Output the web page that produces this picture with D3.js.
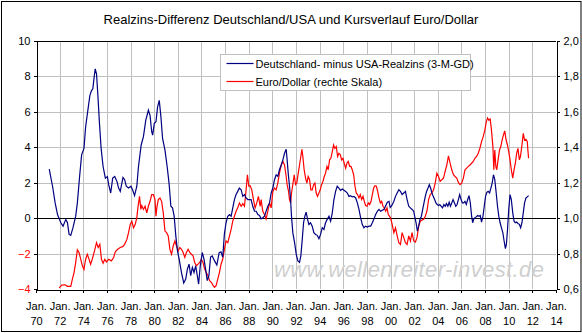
<!DOCTYPE html>
<html>
<head>
<meta charset="utf-8">
<script src="https://cdn.jsdelivr.net/npm/d3@7"></script>
<style>
  body { margin: 0; background: #fff; }
  svg text { font-family: "Liberation Sans", Arial, sans-serif; }
</style>
</head>
<body>
<svg id="chart" width="582" height="333"></svg>
<script>
/* ===============================
   Data
================================ */

const chartTitle = "Realzins-Differenz Deutschland/USA und Kursverlauf Euro/Dollar";
const seriesNames = ["Deutschland- minus USA-Realzins (3-M-GD)", "Euro/Dollar (rechte Skala)"];

const leftTicks = [-4, -2, 0, 2, 4, 6, 8, 10];
const rightTicks = [0.6, 0.8, 1.0, 1.2, 1.4, 1.6, 1.8, 2.0];
const yearTicks = d3.range(1970, 2015, 2);

// real interest rate difference (left scale), decimal years
const realYears = [
  1971.12, 1971.40, 1971.62, 1971.82, 1972.10, 1972.29, 1972.52, 1972.66, 1972.80, 1972.94,
  1973.13, 1973.36, 1973.50, 1973.69, 1973.86, 1974.06, 1974.20, 1974.39, 1974.56, 1974.70,
  1974.81, 1974.92, 1975.01, 1975.12, 1975.23, 1975.37, 1975.51, 1975.68, 1975.87, 1976.04,
  1976.15, 1976.32, 1976.49, 1976.66, 1976.85, 1976.99, 1977.13, 1977.36, 1977.50, 1977.64,
  1977.83, 1978.03, 1978.17, 1978.34, 1978.53, 1978.67, 1978.90, 1979.09, 1979.29, 1979.51,
  1979.65, 1979.79, 1979.87, 1980.01, 1980.15, 1980.29, 1980.43, 1980.57, 1980.71, 1980.91,
  1981.10, 1981.27, 1981.41, 1981.55, 1981.69, 1981.83, 1981.97, 1982.11, 1982.31, 1982.50,
  1982.67, 1982.81, 1982.95, 1983.09, 1983.23, 1983.37, 1983.51, 1983.65, 1983.76, 1983.90,
  1984.07, 1984.21, 1984.35, 1984.49, 1984.63, 1984.77, 1984.91, 1985.10, 1985.30, 1985.50,
  1985.65, 1985.80, 1985.94, 1986.08, 1986.23, 1986.37, 1986.51, 1986.65, 1986.79, 1986.93,
  1987.07, 1987.21, 1987.36, 1987.50, 1987.64, 1987.78, 1987.92, 1988.06, 1988.20, 1988.34,
  1988.49, 1988.63, 1988.77, 1988.91, 1989.05, 1989.19, 1989.33, 1989.47, 1989.62, 1989.76,
  1989.90, 1990.04, 1990.18, 1990.32, 1990.46, 1990.60, 1990.75, 1990.89, 1991.03, 1991.17,
  1991.25, 1991.34, 1991.45, 1991.54, 1991.62, 1991.73, 1991.88, 1992.02, 1992.16, 1992.30,
  1992.41, 1992.53, 1992.64, 1992.75, 1992.86, 1992.98, 1993.09, 1993.23, 1993.37, 1993.51,
  1993.66, 1993.80, 1993.94, 1994.08, 1994.22, 1994.36, 1994.50, 1994.64, 1994.79, 1994.93,
  1995.07, 1995.21, 1995.35, 1995.49, 1995.63, 1995.77, 1995.92, 1996.06, 1996.20, 1996.34,
  1996.48, 1996.62, 1996.76, 1996.90, 1997.05, 1997.19, 1997.33, 1997.47, 1997.61, 1997.75,
  1997.89, 1998.03, 1998.18, 1998.32, 1998.46, 1998.60, 1998.74, 1998.88, 1999.02, 1999.16,
  1999.31, 1999.45, 1999.59, 1999.73, 1999.87, 1999.97, 2000.10, 2000.28, 2000.42, 2000.56,
  2000.70, 2000.84, 2000.98, 2001.12, 2001.26, 2001.40, 2001.54, 2001.68, 2001.82, 2001.96,
  2002.04, 2002.16, 2002.27, 2002.38, 2002.49, 2002.61, 2002.72, 2002.83, 2002.94, 2003.05,
  2003.17, 2003.28, 2003.39, 2003.50, 2003.61, 2003.73, 2003.84, 2003.95, 2004.06, 2004.17,
  2004.29, 2004.40, 2004.51, 2004.62, 2004.73, 2004.85, 2004.96, 2005.07, 2005.18, 2005.29,
  2005.41, 2005.52, 2005.63, 2005.74, 2005.85, 2005.97, 2006.08, 2006.19, 2006.30, 2006.41,
  2006.53, 2006.64, 2006.75, 2006.86, 2006.95, 2007.03, 2007.14, 2007.25, 2007.37, 2007.48,
  2007.59, 2007.70, 2007.82, 2007.93, 2008.04, 2008.15, 2008.26, 2008.38, 2008.49, 2008.60,
  2008.71, 2008.82, 2008.94, 2009.05, 2009.16, 2009.27, 2009.38, 2009.50, 2009.61, 2009.72,
  2009.80, 2009.89, 2010.00, 2010.11, 2010.22, 2010.34, 2010.45, 2010.56, 2010.67, 2010.78,
  2010.90, 2011.01, 2011.12, 2011.23, 2011.34, 2011.46, 2011.57, 2011.68
];
const realValues = [
  2.77, 1.8, 0.86, 0.2, -0.26, -0.45, -0.07, -0.26, -0.92, -0.97,
  -0.54, 0.11, 0.86, 2.35, 3.57, 3.94, 5.16, 6.1, 6.93, 7.2,
  7.3, 7.96, 8.43, 8.15, 7.0, 5.35, 3.94, 2.9, 2.26, 2.35,
  1.89, 1.42, 2.26, 2.35, 2.07, 1.7, 1.51, 2.3, 2.17, 1.8,
  1.7, 1.8, 1.6, 1.27, 1.8, 2.9, 4.13, 4.6, 5.53, 6.09,
  5.8, 4.88, 4.69, 5.35, 5.44, 6.28, 6.65, 5.72, 4.5, 3.85,
  2.9, 1.89, 0.67, 0.58, 0.11, -1.0, -1.85, -2.3, -3.07, -3.66,
  -3.44, -2.88, -2.6, -3.25, -2.78, -3.07, -2.69, -3.25, -3.72, -2.69,
  -1.94, -2.3, -2.88, -3.53, -3.25, -2.2, -2.13, -2.4, -2.65, -1.95,
  -1.9, -2.2, -0.9, -0.26, 0.11, 0.2, 0.11, 0.58, 1.05, 1.33,
  1.51, 1.7, 1.6, 1.23, 1.33, 1.14, 1.05, 1.05, 1.05, 0.67,
  0.39, 0.39, 0.2, 0.15, -0.04, 0.02, 0.11, 0.39, 0.67, 0.86,
  1.42, 1.7, 2.17, 2.45, 2.36, 2.73, 3.0, 3.29, 3.66, 3.89,
  3.29, 2.54, 1.8, 1.05, 0.11, -0.82, -1.38, -2.04, -2.41, -2.5,
  -2.13, -1.2, -0.26, 0.11, 0.34, -0.07, -0.36, -0.26, -0.45, -0.82,
  -0.92, -0.97, -1.16, -0.92, -0.54, -0.64, -0.26, -0.07, 0.11, -0.17,
  0.3, 1.05, 1.51, 1.8, 1.7, 1.57, 1.64, 1.57, 1.51, 1.42,
  1.23, 1.27, 1.2, 1.23, 1.14, 0.86, 0.49, 0.02, -0.36, -0.54,
  -0.45, -0.5, -0.45, -0.45, -0.26, -0.04, 0.2, 0.39, 0.49, 0.39,
  0.45, 0.5, 0.7, 0.9, 0.95, 0.6, 0.7, 0.95, 1.23, 1.42,
  1.6, 1.51, 1.33, 1.42, 1.51, 1.05, 0.67, 0.58, 0.49, 0.39,
  0.11, -0.26, -0.73, -0.45, -0.07, 0.11, 0.49, 0.86, 1.23, 1.51,
  1.7, 1.89, 1.7, 1.42, 1.23, 1.05, 0.86, 0.77, 0.71, 0.77,
  0.67, 0.58, 0.77, 0.67, 0.82, 0.67, 0.9, 0.67, 0.86, 1.05,
  0.86, 0.67, 0.77, 1.05, 1.33, 1.05, 0.86, 0.86, 0.95, 0.77,
  1.05, 1.27, 0.86, 0.11, -0.26, -0.07, 0.02, 0.07, 0.15, 0.11,
  0.15, -0.22, 0.11, 0.67, 1.23, 1.46, 1.51, 1.42, 1.7, 1.98,
  2.45, 2.17, 1.42, 0.67, 0.11, -0.26, -0.54, -0.82, -1.29, -1.72,
  -1.48, -0.73, 0.49, 1.33, 1.05, 0.3, -0.17, -0.26, -0.22, -0.3,
  -0.35, -0.54, -0.26, 0.3, 0.86, 1.14, 1.2, 1.27
];

// Euro/Dollar (right scale), decimal years
const euroYears = [
  1971.96, 1972.18, 1972.46, 1972.66, 1972.94, 1973.08, 1973.22, 1973.36, 1973.50, 1973.64,
  1973.78, 1973.92, 1974.06, 1974.20, 1974.34, 1974.48, 1974.62, 1974.76, 1974.95, 1975.12,
  1975.26, 1975.40, 1975.54, 1975.68, 1975.82, 1975.96, 1976.15, 1976.38, 1976.57, 1976.71,
  1976.91, 1977.13, 1977.33, 1977.50, 1977.69, 1977.83, 1977.97, 1978.11, 1978.25, 1978.39,
  1978.53, 1978.62, 1978.76, 1978.87, 1978.95, 1979.09, 1979.23, 1979.37, 1979.51, 1979.65,
  1979.79, 1979.93, 1980.07, 1980.15, 1980.24, 1980.35, 1980.49, 1980.63, 1980.77, 1980.91,
  1981.05, 1981.19, 1981.33, 1981.47, 1981.61, 1981.75, 1981.89, 1982.03, 1982.17, 1982.31,
  1982.45, 1982.59, 1982.73, 1982.87, 1983.01, 1983.15, 1983.29, 1983.43, 1983.57, 1983.71,
  1983.85, 1983.99, 1984.13, 1984.27, 1984.41, 1984.55, 1984.69, 1984.83, 1984.97, 1985.10,
  1985.24, 1985.38, 1985.52, 1985.66, 1985.80, 1985.94, 1986.08, 1986.23, 1986.37, 1986.51,
  1986.65, 1986.79, 1986.93, 1987.07, 1987.21, 1987.36, 1987.50, 1987.64, 1987.78, 1987.89,
  1988.01, 1988.12, 1988.26, 1988.40, 1988.54, 1988.68, 1988.82, 1988.97, 1989.05, 1989.19,
  1989.33, 1989.47, 1989.62, 1989.76, 1989.90, 1990.04, 1990.18, 1990.32, 1990.46, 1990.60,
  1990.75, 1990.89, 1991.03, 1991.17, 1991.25, 1991.37, 1991.45, 1991.54, 1991.62, 1991.73,
  1991.85, 1991.96, 1992.07, 1992.19, 1992.30, 1992.41, 1992.50, 1992.58, 1992.69, 1992.81,
  1992.92, 1993.03, 1993.15, 1993.26, 1993.37, 1993.49, 1993.60, 1993.71, 1993.82, 1993.94,
  1994.05, 1994.16, 1994.28, 1994.39, 1994.50, 1994.62, 1994.73, 1994.84, 1994.95, 1995.07,
  1995.18, 1995.29, 1995.41, 1995.52, 1995.63, 1995.75, 1995.86, 1995.97, 1996.08, 1996.20,
  1996.31, 1996.42, 1996.54, 1996.65, 1996.76, 1996.88, 1996.99, 1997.10, 1997.21, 1997.33,
  1997.44, 1997.55, 1997.67, 1997.78, 1997.89, 1998.01, 1998.12, 1998.23, 1998.35, 1998.46,
  1998.57, 1998.68, 1998.80, 1998.91, 1999.02, 1999.14, 1999.25, 1999.36, 1999.47, 1999.59,
  1999.70, 1999.81, 2000.00, 2000.14, 2000.28, 2000.42, 2000.56, 2000.70, 2000.84, 2000.98,
  2001.12, 2001.26, 2001.40, 2001.54, 2001.68, 2001.82, 2001.96, 2002.10, 2002.24, 2002.38,
  2002.52, 2002.66, 2002.80, 2002.94, 2003.08, 2003.22, 2003.36, 2003.50, 2003.64, 2003.78,
  2003.92, 2004.06, 2004.20, 2004.34, 2004.48, 2004.62, 2004.76, 2004.90, 2005.04, 2005.18,
  2005.32, 2005.46, 2005.60, 2005.74, 2005.88, 2006.02, 2006.16, 2006.30, 2006.44, 2006.58,
  2006.72, 2006.86, 2007.00, 2007.14, 2007.28, 2007.42, 2007.56, 2007.70, 2007.84, 2007.98,
  2008.10, 2008.21, 2008.32, 2008.43, 2008.54, 2008.66, 2008.74, 2008.82, 2008.91, 2008.99,
  2009.10, 2009.22, 2009.33, 2009.44, 2009.55, 2009.66, 2009.78, 2009.89, 2010.00, 2010.11,
  2010.22, 2010.34, 2010.45, 2010.56, 2010.67, 2010.78, 2010.90, 2010.99, 2011.12, 2011.23,
  2011.34, 2011.46, 2011.57, 2011.62, 2011.68
];
const euroValues = [
  0.606, 0.622, 0.624, 0.615, 0.615, 0.656, 0.693, 0.75, 0.821, 0.806,
  0.77, 0.731, 0.71, 0.768, 0.796, 0.77, 0.74, 0.768, 0.815, 0.862,
  0.834, 0.852, 0.768, 0.746, 0.768, 0.753, 0.768, 0.759, 0.778, 0.81,
  0.824, 0.834, 0.839, 0.852, 0.88, 0.918, 0.964, 0.983, 0.946, 0.964,
  1.002, 1.058, 1.123, 1.049, 1.071, 1.049, 1.067, 1.03, 1.067, 1.095,
  1.133, 1.133, 1.105, 1.011, 1.067, 1.105, 1.114, 1.095, 1.03, 0.927,
  0.918, 0.9, 0.824, 0.796, 0.843, 0.871, 0.843, 0.815, 0.834, 0.824,
  0.806, 0.778, 0.806, 0.824, 0.806, 0.796, 0.787, 0.75, 0.731, 0.74,
  0.75, 0.768, 0.75, 0.712, 0.693, 0.675, 0.647, 0.638, 0.622, 0.61,
  0.619, 0.656, 0.693, 0.74, 0.768, 0.824, 0.871, 0.862, 0.9, 0.936,
  0.983, 1.011, 1.039, 1.058, 1.086, 1.067, 1.082, 1.067, 1.16, 1.245,
  1.18, 1.183, 1.16, 1.105, 1.058, 1.086, 1.123, 1.067, 1.105, 1.039,
  1.02, 0.996, 1.039, 1.086, 1.058, 1.151, 1.17, 1.16, 1.198, 1.254,
  1.30, 1.32, 1.30, 1.235, 1.189, 1.151, 1.105, 1.086, 1.142, 1.189,
  1.245, 1.189, 1.198, 1.254, 1.30, 1.348, 1.389, 1.348, 1.273, 1.226,
  1.198, 1.235, 1.217, 1.16, 1.16, 1.189, 1.198, 1.142, 1.123, 1.142,
  1.16, 1.189, 1.207, 1.235, 1.254, 1.292, 1.273, 1.329, 1.338, 1.376,
  1.413, 1.394, 1.404, 1.348, 1.366, 1.357, 1.329, 1.338, 1.31, 1.282,
  1.31, 1.32, 1.292, 1.292, 1.273, 1.245, 1.18, 1.142, 1.133, 1.114,
  1.133, 1.105, 1.123, 1.095, 1.071, 1.067, 1.086, 1.077, 1.095, 1.133,
  1.17, 1.183, 1.18, 1.151, 1.114, 1.086, 1.095, 1.067, 1.058, 1.039,
  1.058, 1.02, 1.002, 0.964, 0.918, 0.946, 0.90, 0.862, 0.852, 0.918,
  0.89, 0.862, 0.852, 0.90, 0.871, 0.918, 0.871, 0.865, 0.89, 0.955,
  0.983, 0.989, 0.993, 1.011, 1.039, 1.105, 1.133, 1.142, 1.16, 1.198,
  1.254, 1.235, 1.207, 1.217, 1.226, 1.264, 1.30, 1.351, 1.31, 1.273,
  1.245, 1.235, 1.226, 1.202, 1.189, 1.198, 1.226, 1.273, 1.282, 1.292,
  1.30, 1.31, 1.32, 1.338, 1.348, 1.366, 1.394, 1.432, 1.46, 1.497,
  1.544, 1.566, 1.553, 1.56, 1.497, 1.404, 1.273, 1.385, 1.292, 1.273,
  1.329, 1.385, 1.404, 1.441, 1.469, 1.493, 1.441, 1.413, 1.376, 1.329,
  1.273, 1.226, 1.273, 1.31, 1.366, 1.394, 1.329, 1.348, 1.413, 1.479,
  1.441, 1.445, 1.432, 1.385, 1.338
];

/* ===============================
   Setup
================================ */

const width = 582;
const height = 333;
const plot = { left: 36, right: 556, top: 41, bottom: 289 };

const svg = d3.select("#chart");

svg.append("rect")
  .attr("x", 0).attr("y", 0)
  .attr("width", width).attr("height", height)
  .attr("fill", "#fff");

svg.append("rect")
  .attr("x", 1.5).attr("y", 1.5)
  .attr("width", width - 2.5).attr("height", height - 3)
  .attr("fill", "none")
  .attr("stroke", "#000")
  .attr("stroke-width", 1);

const x = d3.scaleLinear().domain([1970, 2014]).range([plot.left, plot.right]);
const y = d3.scaleLinear().domain([-4, 10]).range([plot.bottom, plot.top]);
const y2 = d3.scaleLinear().domain([0.6, 2.0]).range([plot.bottom, plot.top]);

/* -------- grid -------- */

const grid = svg.append("g").attr("shape-rendering", "crispEdges");

grid.selectAll(".vgrid")
  .data(yearTicks.slice(1, -1))
  .enter().append("line")
  .attr("x1", d => Math.round(x(d)) + 0.5)
  .attr("x2", d => Math.round(x(d)) + 0.5)
  .attr("y1", plot.top).attr("y2", plot.bottom)
  .attr("stroke", "#c0c0c0");

grid.selectAll(".hgrid")
  .data(leftTicks.filter(d => d !== 0 && d !== -4))
  .enter().append("line")
  .attr("x1", plot.left).attr("x2", plot.right)
  .attr("y1", d => Math.round(y(d)) + 0.5)
  .attr("y2", d => Math.round(y(d)) + 0.5)
  .attr("stroke", d => d === 10 ? "#000" : "#c0c0c0");

/* -------- watermark -------- */

svg.append("text")
  .attr("x", 274).attr("y", 277)
  .attr("font-size", 22)
  .attr("font-style", "italic")
  .attr("fill", "#cfcfcf")
  .attr("textLength", 270)
  .text("www.wellenreiter-invest.de");

/* -------- zero line -------- */

svg.append("line")
  .attr("x1", plot.left).attr("x2", plot.right)
  .attr("y1", Math.round(y(0)) + 0.5).attr("y2", Math.round(y(0)) + 0.5)
  .attr("stroke", "#000")
  .attr("shape-rendering", "crispEdges");

/* -------- lines -------- */

const realLine = d3.line()
  .x((d, i) => x(realYears[i]))
  .y(d => y(d));

const euroLine = d3.line()
  .x((d, i) => x(euroYears[i]))
  .y(d => y2(d));

svg.append("path")
  .datum(euroValues)
  .attr("d", euroLine)
  .attr("fill", "none")
  .attr("stroke", "#ff0000")
  .attr("stroke-width", 1.2);

svg.append("path")
  .datum(realValues)
  .attr("d", realLine)
  .attr("fill", "none")
  .attr("stroke", "#000080")
  .attr("stroke-width", 1.2);

/* -------- axes -------- */

const fontAxis = 11;

const leftAxis = svg.append("g")
  .attr("transform", `translate(${plot.left + 0.5},0)`)
  .call(d3.axisLeft(y).tickValues(leftTicks).tickSize(3).tickPadding(3).tickFormat(d3.format("d")));

leftAxis.selectAll("text")
  .attr("font-size", fontAxis)
  .attr("fill", d => d < 0 ? "#ff0000" : "#000");

const rightAxis = svg.append("g")
  .attr("transform", `translate(${plot.right + 0.5},0)`)
  .call(d3.axisRight(y2).tickValues(rightTicks).tickSize(3).tickPadding(4)
    .tickFormat(d => d3.format(".1f")(d).replace(".", ",")));

rightAxis.selectAll("text").attr("font-size", fontAxis).attr("fill", "#000");

const bottomAxis = svg.append("g")
  .attr("transform", `translate(0,${plot.bottom + 0.5})`)
  .call(d3.axisBottom(x).tickValues(yearTicks).tickSize(3).tickFormat(""));

bottomAxis.selectAll(".tick").append("text")
  .attr("y", 20)
  .attr("font-size", fontAxis)
  .attr("fill", "#000")
  .attr("text-anchor", "middle")
  .text("Jan.");

bottomAxis.selectAll(".tick").append("text")
  .attr("y", 35)
  .attr("font-size", fontAxis)
  .attr("fill", "#000")
  .attr("text-anchor", "middle")
  .text(d => String(d % 100).padStart(2, "0"));

[leftAxis, rightAxis, bottomAxis].forEach(a => {
  a.select(".domain").attr("stroke", "#000");
  a.selectAll(".tick line").attr("stroke", "#000");
  a.attr("shape-rendering", "crispEdges");
});

/* -------- title -------- */

svg.append("text")
  .attr("x", 291).attr("y", 24)
  .attr("text-anchor", "middle")
  .attr("font-size", 13)
  .attr("fill", "#000")
  .text(chartTitle);

/* -------- legend -------- */

const legend = svg.append("g").attr("transform", "translate(220.5,54.5)");

legend.append("rect")
  .attr("width", 250).attr("height", 36)
  .attr("fill", "#fff")
  .attr("stroke", "#c0c0c0")
  .attr("shape-rendering", "crispEdges");

const legendColors = ["#000080", "#ff0000"];

seriesNames.forEach((name, i) => {
  const row = legend.append("g").attr("transform", `translate(0,${9 + i * 18})`);
  row.append("line")
    .attr("x1", 6).attr("x2", 33)
    .attr("stroke", legendColors[i])
    .attr("stroke-width", 1.2);
  row.append("text")
    .attr("x", 35).attr("y", 4)
    .attr("font-size", 11)
    .attr("fill", "#000")
    .text(name);
});
</script>
</body>
</html>
